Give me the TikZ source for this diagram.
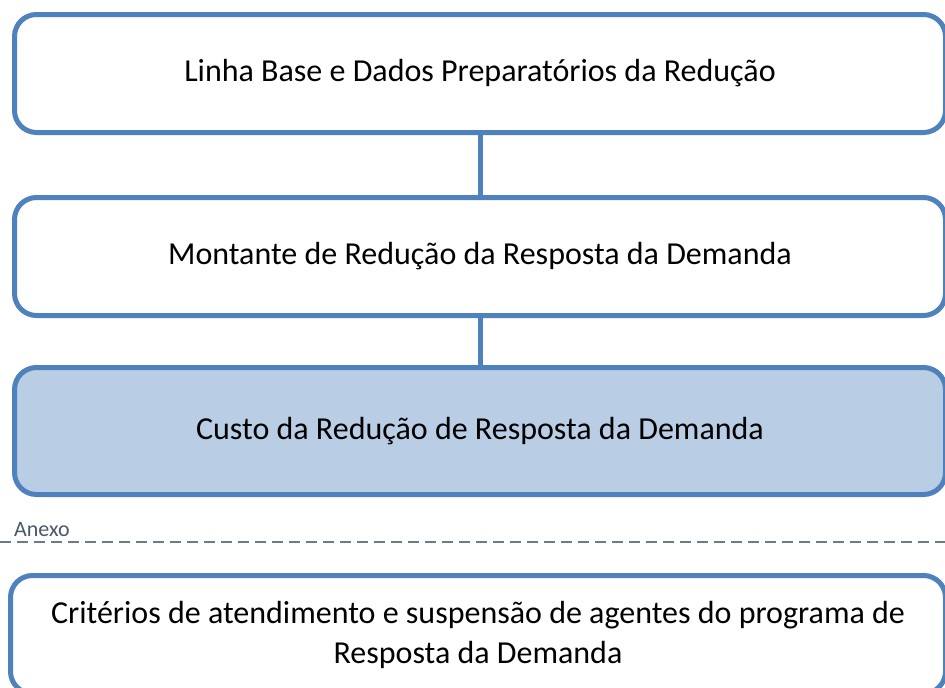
\documentclass[tikz,border=0pt]{standalone}
\usepackage{fontspec}
\setmainfont{Carlito}
\usepackage{xcolor}
\usetikzlibrary{positioning}
\definecolor{boxblue}{HTML}{4F81BD}
\definecolor{boxfill}{HTML}{B9CDE5}
\definecolor{annexgray}{HTML}{4A5868}
\definecolor{sepgray}{HTML}{6A7B8E}
\tikzset{stagebox/.style={draw=boxblue, fill=white, line width=5pt, rounded corners=22pt,
  minimum width=931pt, inner sep=0pt, align=center, font=\fontsize{32}{40}\selectfont},
%links between the stages
link/.style={draw=boxblue, line width=5pt},
annexlabel/.style={text=annexgray, inner sep=0pt, font=\fontsize{22}{24}\selectfont},
annexsep/.style={draw=sepgray, line width=2.5pt, dash pattern=on 11pt off 6pt}}

\begin{document}
\begin{tikzpicture}[x=1pt,y=-1pt]
 \useasboundingbox (0,0) rectangle (945,688);
 \clip (0,0) rectangle (945,688);

 %Drawing the stage boxes
 \node[stagebox, minimum height=118pt] (base) at (480,73.5) {Linha Base e Dados Preparatórios da Redução};
 \node[stagebox, minimum height=118pt] (montante) at (480,256.5) {Montante de Redução da Resposta da Demanda};
 \node[stagebox, fill=boxfill, minimum height=127pt] (custo) at (480,431) {Custo da Redução de Resposta da Demanda};

 %Drawing links
 \draw[link] (base) -- (montante);
 \draw[link] (montante) -- (custo);

 %Annex separator
 \node[annexlabel, anchor=base west] (anexo) at (14,536) {Anexo};
 \coordinate (sepleft) at (0,542);
 \coordinate (sepright) at (945,542);
 \draw[annexsep] (sepleft) -- (sepright);

 %Annex box
 \node[stagebox, minimum width=935pt, minimum height=118pt] (criterios) at (478,634.5)
   {Critérios de atendimento e suspensão de agentes do programa de\\Resposta da Demanda};
\end{tikzpicture}
\end{document}
